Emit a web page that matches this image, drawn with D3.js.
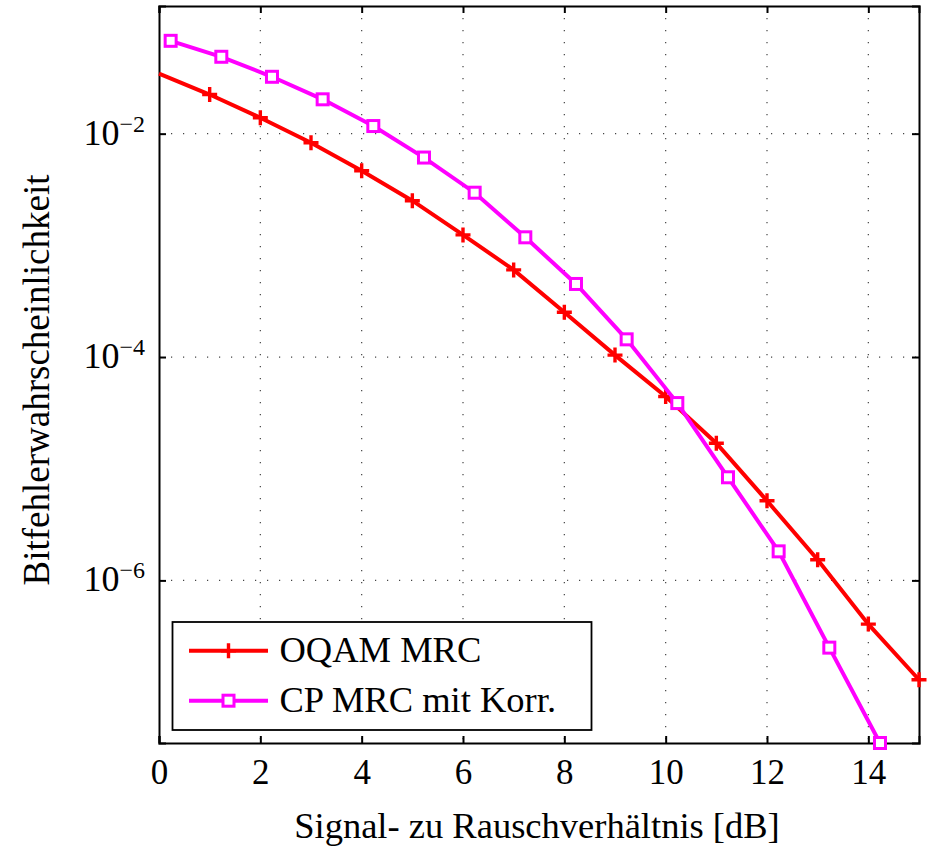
<!DOCTYPE html>
<html>
<head>
<meta charset="utf-8">
<script src="https://cdn.jsdelivr.net/npm/d3@7"></script>
<style>
  body { margin: 0; background: #fff; }
  svg { display: block; }
  text { font-family: "Liberation Serif", "Times New Roman", serif; fill: #000; }
</style>
</head>
<body>
<div id="chart"></div>
<script>
// SNR in dB and bit error probabilities
const oqamSnr = [0, 1, 2, 3, 4, 5, 6, 7, 8, 9, 10, 11, 12, 13, 14, 15];
const oqamBer = [3.45e-2, 2.24e-2, 1.39e-2, 8.3e-3, 4.66e-3, 2.51e-3, 1.24e-3, 6.03e-4,
                 2.52e-4, 1.04e-4, 4.43e-5, 1.69e-5, 5.16e-6, 1.53e-6, 4.06e-7, 1.29e-7];

const cpSnr = [0.23, 1.23, 2.23, 3.23, 4.23, 5.23, 6.23, 7.23, 8.23, 9.23, 10.23, 11.23, 12.23, 13.23, 14.23];
const cpBer = [6.78e-2, 4.88e-2, 3.23e-2, 2.03e-2, 1.17e-2, 6.11e-3, 2.96e-3, 1.18e-3,
               4.51e-4, 1.44e-4, 3.87e-5, 8.38e-6, 1.82e-6, 2.50e-7, 3.50e-8];

const xTicks = [0, 2, 4, 6, 8, 10, 12, 14];
const yTicks = [1e-2, 1e-4, 1e-6];
const yTickExp = ["−2", "−4", "−6"];

const seriesNames = ["OQAM MRC", "CP MRC mit Korr."];

const serif = "'Liberation Serif', 'Times New Roman', serif";

const margin = { top: 6, right: 16, bottom: 106, left: 159 },
      width = 935 - margin.left - margin.right,
      height = 849 - margin.top - margin.bottom;

const svg = d3.select("#chart").append("svg")
    .attr("width", 935)
    .attr("height", 849)
  .append("g")
    .attr("transform", "translate(" + margin.left + "," + margin.top + ")");

const x = d3.scaleLinear().domain([0, 15]).range([0, width]);
const y = d3.scaleLog().domain([3.5e-8, 0.139]).range([height, 0]);

// dotted grid
svg.append("g")
  .selectAll("line")
  .data(xTicks.filter(d => d > 0))
  .enter().append("line")
    .attr("x1", d => x(d)).attr("x2", d => x(d))
    .attr("y1", 0).attr("y2", height)
    .attr("stroke", "#444").attr("stroke-width", 1.2)
    .attr("stroke-dasharray", "1.2,10.8");

svg.append("g")
  .selectAll("line")
  .data(yTicks)
  .enter().append("line")
    .attr("x1", 0).attr("x2", width)
    .attr("y1", d => y(d)).attr("y2", d => y(d))
    .attr("stroke", "#444").attr("stroke-width", 1.2)
    .attr("stroke-dasharray", "1.2,10.8");

// axes with inward ticks on all four sides
const tickLen = 7;
const xb = svg.append("g")
    .attr("transform", "translate(0," + height + ")")
    .call(d3.axisBottom(x).tickValues(xTicks).tickSize(-tickLen).tickPadding(16).tickFormat(d3.format("d")));
const xt = svg.append("g")
    .call(d3.axisTop(x).tickValues(xTicks).tickSize(-tickLen).tickFormat(""));
const yl = svg.append("g")
    .call(d3.axisLeft(y).tickValues(yTicks).tickSize(-tickLen).tickFormat(""));
const yr = svg.append("g")
    .attr("transform", "translate(" + width + ",0)")
    .call(d3.axisRight(y).tickValues(yTicks).tickSize(-tickLen).tickFormat(""));

[xb, xt, yl, yr].forEach(g => {
  g.attr("font-family", serif);
  g.select(".domain").attr("stroke", "#000").attr("stroke-width", 2);
  g.selectAll(".tick line").attr("stroke", "#000").attr("stroke-width", 2);
});
xb.selectAll(".tick text")
    .style("font-family", serif)
    .style("font-size", "35px")
    .attr("fill", "#000");

// y tick labels as 10 with superscript exponent
const yLab = svg.append("g").selectAll("text")
  .data(yTicks)
  .enter().append("text")
    .attr("x", -14)
    .attr("y", d => y(d) + 11)
    .attr("text-anchor", "end")
    .style("font-size", "36px");
yLab.append("tspan").text("10");
yLab.append("tspan")
    .attr("dy", -13)
    .style("font-size", "24px")
    .text((d, i) => yTickExp[i]);

// axis titles
svg.append("text")
    .attr("x", width / 2 - 2)
    .attr("y", 832)
    .attr("text-anchor", "middle")
    .style("font-size", "36.5px")
    .text("Signal- zu Rauschverhältnis [dB]");

svg.append("text")
    .attr("transform", "translate(" + (49 - margin.left) + "," + (380 - margin.top) + ") rotate(-90)")
    .attr("text-anchor", "middle")
    .style("font-size", "37px")
    .text("Bitfehlerwahrscheinlichkeit");

// data lines
const oqam = oqamSnr.map((s, i) => ({ x: s, y: oqamBer[i] }));
const cp = cpSnr.map((s, i) => ({ x: s, y: cpBer[i] }));

const line = d3.line().x(d => x(d.x)).y(d => y(d.y));

const red = "#ff0000", magenta = "#ff00ff";

svg.append("path").datum(oqam)
    .attr("d", line).attr("fill", "none")
    .attr("stroke", red).attr("stroke-width", 4);

svg.selectAll(".plus")
  .data(oqam.filter(d => d.x > 0))
  .enter().append("path")
    .attr("class", "plus")
    .attr("d", d => {
      const cx = x(d.x), cy = y(d.y), r = 7.5;
      return "M" + (cx - r) + "," + cy + "H" + (cx + r) + "M" + cx + "," + (cy - r) + "V" + (cy + r);
    })
    .attr("stroke", red).attr("stroke-width", 3.4).attr("fill", "none");

svg.append("path").datum(cp)
    .attr("d", line).attr("fill", "none")
    .attr("stroke", magenta).attr("stroke-width", 4);

svg.selectAll(".sq")
  .data(cp)
  .enter().append("rect")
    .attr("class", "sq")
    .attr("x", d => x(d.x) - 5.5)
    .attr("y", d => y(d.y) - 5.5)
    .attr("width", 11).attr("height", 11)
    .attr("fill", "#fff")
    .attr("stroke", magenta).attr("stroke-width", 3);

// legend
const lg = svg.append("g").attr("transform", "translate(" + (172.5 - margin.left) + "," + (622 - margin.top) + ")");
lg.append("rect")
    .attr("width", 419).attr("height", 108)
    .attr("fill", "#fff").attr("stroke", "#000").attr("stroke-width", 1.8);

const rows = [
  { name: seriesNames[0], color: red, mark: "plus", cy: 28.7 },
  { name: seriesNames[1], color: magenta, mark: "square", cy: 78.7 }
];
rows.forEach(r => {
  lg.append("line")
      .attr("x1", 16.5).attr("x2", 95.5)
      .attr("y1", r.cy).attr("y2", r.cy)
      .attr("stroke", r.color).attr("stroke-width", 4);
  if (r.mark === "plus") {
    lg.append("path")
        .attr("d", "M48.5," + r.cy + "H63.5M56," + (r.cy - 7.5) + "V" + (r.cy + 7.5))
        .attr("stroke", r.color).attr("stroke-width", 3.4);
  } else {
    lg.append("rect")
        .attr("x", 50.5).attr("y", r.cy - 5.5)
        .attr("width", 11).attr("height", 11)
        .attr("fill", "#fff").attr("stroke", r.color).attr("stroke-width", 3);
  }
  lg.append("text")
      .attr("x", 107)
      .attr("y", r.cy + 11.5)
      .style("font-size", "36.5px")
      .text(r.name);
});
</script>
</body>
</html>
